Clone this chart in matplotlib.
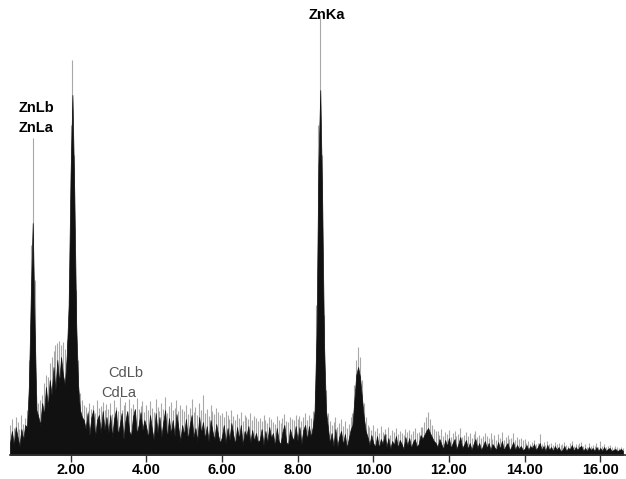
import numpy as np
import matplotlib
matplotlib.use("Agg")
import matplotlib.pyplot as plt

# EDS spectrum, channels of 0.05 keV starting at 0.40 keV (arbitrary count units)
e_start, e_step = 0.40, 0.05
counts = [
    12,24,10,28,18,9,26,15,30,28,
    70,160,232,130,45,38,
    30,52,40,68,48,75,60,88,65,95,72,98,80,70,100,150,
    280,360,260,130,70,45,38,35,
    26,42,20,38,45,18,35,40,22,44,25,38,
    22,40,18,36,45,20,30,42,16,34,44,24,19,38,46,21,30,43,25,35,
    28,17,40,26,15,42,22,38,18,33,45,16,37,21,35,19,41,27,14,30,
    20,36,15,30,40,18,27,14,38,22,33,16,29,13,35,24,15,31,20,12,
    18,30,12,27,15,32,20,11,28,16,30,10,24,19,29,12,25,14,22,13,
    15,26,10,24,12,28,17,22,9,27,14,11,23,30,13,10,26,18,15,29,
    14,28,11,25,30,15,29,18,28,45,
    120,290,365,255,110,45,28,
    12,22,9,26,8,18,24,10,21,7,16,25,
    30,55,80,88,78,58,38,24,18,
    10,20,12,8,19,7,16,11,21,8,17,6,14,10,19,7,15,11,6,18,9,17,7,13,16,8,11,20,
    16,20,24,27,22,18,14,12,
    8,16,11,6,15,9,17,7,12,16,6,11,18,7,10,15,6,12,5,11,16,7,12,5,9,14,
    7,12,5,11,8,5,13,6,14,5,9,12,5,8,13,5,10,6,9,5,
    6,10,5,9,7,11,5,8,12,5,9,4,10,5,8,4,9,5,8,4,
    5,9,4,7,6,10,4,8,5,8,9,4,7,4,8,5,7,4,8,4,
    7,4,8,4,6,7,4,5,6,4,5,6,4,
]
spikes = [
    30,36,27,38,33,26,40,31,37,45,
    95,210,317,175,60,52,
    55,60,72,80,78,92,98,104,110,112,114,110,113,106,115,175,
    330,395,300,165,95,62,55,50,
    48,44,52,46,50,42,55,47,49,53,45,51,
    46,52,41,55,48,44,58,45,50,53,42,56,47,51,44,57,46,49,54,43,
    50,45,54,47,43,56,48,44,52,46,58,42,49,53,45,47,55,44,50,46,
    44,50,41,47,56,43,48,40,52,45,60,42,46,39,50,44,41,47,43,40,
    42,38,44,40,36,45,39,35,41,37,43,34,40,38,36,42,35,39,37,34,
    37,34,40,35,32,38,36,33,31,39,35,32,37,41,34,33,38,36,35,40,
    36,39,34,38,42,35,40,37,44,65,
    150,330,440,300,140,65,42,
    34,30,33,38,28,32,36,29,34,27,31,38,
    42,70,95,108,98,75,52,38,30,
    28,25,30,24,27,22,29,23,26,21,28,20,25,23,27,21,24,22,20,26,23,25,21,24,27,22,23,28,
    28,33,38,43,36,30,26,24,
    24,20,26,19,23,21,25,18,22,24,19,21,27,18,20,23,19,22,17,21,24,18,20,17,19,22,
    19,17,22,16,20,15,21,17,23,15,18,20,16,17,22,15,18,16,17,15,
    16,12,14,11,13,15,11,12,21,11,13,10,14,11,12,10,13,11,12,10,
    11,13,10,9,12,14,9,11,10,12,13,9,11,8,12,9,10,9,12,8,
    14,9,11,8,9,10,8,7,9,8,7,8,7,
]
tick_values = [2, 4, 6, 8, 10, 12, 14, 16]
tick_labels = ["2.00", "4.00", "6.00", "8.00", "10.00", "12.00", "14.00", "16.00"]
peak_labels = [("ZnLb", 1.09, 347, "black", "bold"),
               ("ZnLa", 1.09, 327, "black", "bold"),
               ("ZnKa", 8.78, 440, "black", "bold"),
               ("CdLb", 3.47, 82, "#555555", "normal"),
               ("CdLa", 3.28, 62, "#555555", "normal")]

energy = e_start + e_step * np.arange(len(counts))

fig = plt.figure(figsize=(6.26, 4.79), dpi=100)
ax = fig.add_axes([10/626, 24/479, 616/626, 455/479])

ax.vlines(energy, 0, spikes, color="#a8a8a8", linewidth=0.8, zorder=1)
ax.fill_between(energy, 0, counts, color="#111111", linewidth=0.5,
                edgecolor="#111111", zorder=2)

for txt, x, y, c, w in peak_labels:
    ax.text(x, y, txt, ha="center", va="center", fontsize=10.5, color=c,
            fontweight=w, family="Liberation Sans", zorder=3)

ax.set_xlim(0.40, 16.68)
ax.set_ylim(0, 455)
ax.set_yticks([])
for s in ["top", "left", "right"]:
    ax.spines[s].set_visible(False)
ax.spines["bottom"].set_color("#333333")
ax.spines["bottom"].set_linewidth(1.2)
ax.set_xticks(tick_values)
ax.set_xticklabels(tick_labels, fontsize=10.5, fontweight="bold", family="Liberation Sans")
ax.tick_params(axis="x", direction="out", length=5, width=1, color="#333333", pad=1)

fig.savefig("out.png", dpi=100)
